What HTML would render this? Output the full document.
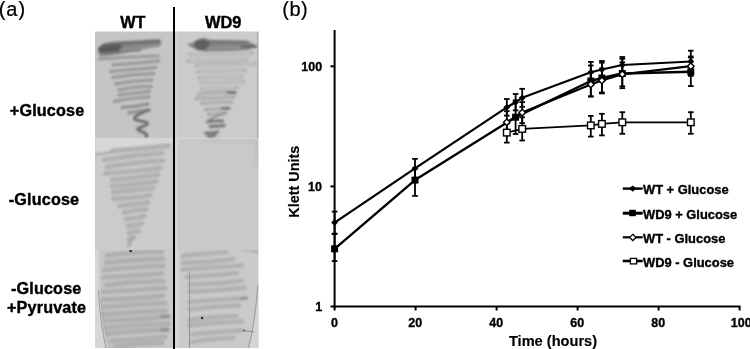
<!DOCTYPE html>
<html><head><meta charset="utf-8">
<style>
html,body{margin:0;padding:0;background:#fff;}
body{width:750px;height:349px;position:relative;overflow:hidden;}
svg{position:absolute;left:0;top:0;}
</style></head>
<body>
<svg width="750" height="349" viewBox="0 0 750 349">
<defs>
<filter id="b06" x="-10%" y="-10%" width="120%" height="120%"><feGaussianBlur stdDeviation="0.6"/></filter>
<filter id="b08" x="-10%" y="-10%" width="120%" height="120%"><feGaussianBlur stdDeviation="0.8"/></filter>
<filter id="b1" x="-10%" y="-10%" width="120%" height="120%"><feGaussianBlur stdDeviation="1"/></filter>
<filter id="b15" x="-10%" y="-10%" width="120%" height="120%"><feGaussianBlur stdDeviation="1.5"/></filter>
<filter id="b3" x="-20%" y="-20%" width="140%" height="140%"><feGaussianBlur stdDeviation="3"/></filter>
<clipPath id="cL1"><rect x="95" y="31.5" width="78" height="107"/></clipPath>
<clipPath id="cR1"><rect x="175" y="31.5" width="83.5" height="107"/></clipPath>
<clipPath id="cL2"><rect x="95" y="138.5" width="78" height="111.5"/></clipPath>
<clipPath id="cR2"><rect x="175" y="138.5" width="83.5" height="111.5"/></clipPath>
<clipPath id="cL3"><rect x="95" y="250" width="78" height="98"/></clipPath>
<clipPath id="cR3"><rect x="175" y="250" width="83.5" height="98"/></clipPath>
</defs>
<rect x="95" y="31.5" width="78" height="107" fill="#c5c5c5"/>
<rect x="175" y="31.5" width="83.5" height="107" fill="#cbcbcb"/>
<rect x="95" y="138.5" width="78" height="111.5" fill="#cbcbcb"/>
<rect x="175" y="138.5" width="83.5" height="111.5" fill="#c9c9c9"/>
<rect x="95" y="250" width="78" height="98" fill="#c9c9c9"/>
<rect x="175" y="250" width="83.5" height="98" fill="#cacaca"/>
<g clip-path="url(#cL1)"><g filter="url(#b08)" stroke-linecap="round" fill="none">
<path d="M98,50 C98,45 104,42.5 115,41.5 L159,39.3 C162,40 162,45 159,46.5 L140,50 L120,54 L101,56.5 C99,56 98,53 98,50 Z" fill="#858585" stroke="none"/>
<ellipse cx="110" cy="48.5" rx="12" ry="5" fill="#5a5a5a" stroke="none" transform="rotate(-6 110 48.5)"/>
<path d="M104,44.8 L159,40.8" stroke="#686868" stroke-width="2.2"/>
<path d="M120,50 L157,46" stroke="#979797" stroke-width="1.3"/>
<path d="M104,53 L140,50.5" stroke="#777777" stroke-width="1.5"/>
<path d="M99.0,59.0 Q126.1,56.9 158.7,56.0" stroke="#999999" stroke-width="3.2"/>
<path d="M113.0,65.0 Q132.4,63.5 158.7,61.0" stroke="#8e8e8e" stroke-width="3.1"/>
<path d="M114.5,65.0 Q132.4,63.5 157.2,61.0" stroke="#ababab" stroke-width="0.9"/>
<path d="M111.0,71.5 Q132.2,69.6 155.5,67.5" stroke="#8e8e8e" stroke-width="3.1"/>
<path d="M112.5,71.5 Q132.2,69.6 154.0,67.5" stroke="#ababab" stroke-width="0.9"/>
<path d="M113.0,77.5 Q133.6,74.1 154.0,73.5" stroke="#8e8e8e" stroke-width="3.1"/>
<path d="M114.5,77.5 Q133.6,74.1 152.5,73.5" stroke="#ababab" stroke-width="0.9"/>
<path d="M116.0,84.0 Q133.5,80.5 152.0,80.0" stroke="#8e8e8e" stroke-width="3.1"/>
<path d="M117.5,84.0 Q133.5,80.5 150.5,80.0" stroke="#ababab" stroke-width="0.9"/>
<path d="M119.0,90.0 Q131.7,86.9 151.0,86.5" stroke="#8e8e8e" stroke-width="3.1"/>
<path d="M120.5,90.0 Q131.7,86.9 149.5,86.5" stroke="#ababab" stroke-width="0.9"/>
<path d="M119.0,95.0 Q136.6,93.0 149.0,91.5" stroke="#8e8e8e" stroke-width="3.1"/>
<path d="M120.5,95.0 Q136.6,93.0 147.5,91.5" stroke="#ababab" stroke-width="0.9"/>
<path d="M114.5,101.5 Q129.5,98.0 149.0,97.0" stroke="#8e8e8e" stroke-width="3.1"/>
<path d="M116.0,101.5 Q129.5,98.0 147.5,97.0" stroke="#ababab" stroke-width="0.9"/>
<path d="M122.0,107.5 Q138.4,106.2 147.6,104.0" stroke="#858585" stroke-width="3.0"/>
<path d="M123.5,107.5 Q138.4,106.2 146.1,104.0" stroke="#a0a0a0" stroke-width="0.9"/>
<path d="M128.7,113.0 Q138.0,111.7 149.0,110.0" stroke="#858585" stroke-width="3.0"/>
<path d="M130.2,113.0 Q138.0,111.7 147.5,110.0" stroke="#a0a0a0" stroke-width="0.9"/>
<path d="M149,110 C141,113 132,117 135,119.5 C139,121.5 150,121 147,124.5 C143,127.5 134,128 139,130.5 C145,133 149,134.5 146,136.5" stroke="#6a6a6a" stroke-width="2.8"/>
</g></g>
<g clip-path="url(#cR1)">
<rect x="175" y="31.5" width="3" height="107" fill="#d0d0d0"/>
<rect x="257" y="31.5" width="1.5" height="107" fill="#a8a8a8"/>
<g filter="url(#b08)" stroke-linecap="round" fill="none">
<path d="M187,44.5 C192,43 196,41 200,39 L204,38 L210,40 L245,40.5 L256,45 L250,49.5 L235,51 L205,51.5 L198,50.5 C192,47.5 189,46 187,44.5 Z" fill="#838383" stroke="none"/>
<ellipse cx="202" cy="44.5" rx="8" ry="5.5" fill="#5e5e5e" stroke="none"/>
<path d="M208,41.5 L248,42" stroke="#6e6e6e" stroke-width="2"/>
<path d="M242,46.5 L256,46.5" stroke="#646464" stroke-width="2.4"/>
<path d="M207,47.5 L240,47.5" stroke="#999999" stroke-width="1.3"/>
<path d="M189.7,54.5 Q217.6,55.3 252.8,53.0" stroke="#acacac" stroke-width="3.4"/>
<path d="M191.2,54.5 Q217.6,55.3 251.3,53.0" stroke="#c9c9c9" stroke-width="1.4"/>
<path d="M188.0,61.0 Q215.6,61.4 246.5,59.5" stroke="#acacac" stroke-width="3.4"/>
<path d="M189.5,61.0 Q215.6,61.4 245.0,59.5" stroke="#c9c9c9" stroke-width="1.4"/>
<path d="M196.0,65.5 Q222.9,63.6 256.0,64.0" stroke="#acacac" stroke-width="3.4"/>
<path d="M197.5,65.5 Q222.9,63.6 254.5,64.0" stroke="#c9c9c9" stroke-width="1.4"/>
<path d="M197.6,72.0 Q223.8,70.6 245.0,70.5" stroke="#acacac" stroke-width="3.4"/>
<path d="M199.1,72.0 Q223.8,70.6 243.5,70.5" stroke="#c9c9c9" stroke-width="1.4"/>
<path d="M199.0,78.0 Q221.0,76.4 241.7,76.8" stroke="#acacac" stroke-width="3.4"/>
<path d="M200.5,78.0 Q221.0,76.4 240.2,76.8" stroke="#c9c9c9" stroke-width="1.4"/>
<path d="M200.8,83.0 Q220.9,82.7 243.0,81.5" stroke="#acacac" stroke-width="3.4"/>
<path d="M202.3,83.0 Q220.9,82.7 241.5,81.5" stroke="#c9c9c9" stroke-width="1.4"/>
<path d="M202.0,89.0 Q216.0,88.6 237.0,87.8" stroke="#acacac" stroke-width="3.4"/>
<path d="M203.5,89.0 Q216.0,88.6 235.5,87.8" stroke="#c9c9c9" stroke-width="1.4"/>
<path d="M199.0,94.0 Q214.8,91.8 235.4,92.5" stroke="#a0a0a0" stroke-width="3.2"/>
<path d="M200.5,94.0 Q214.8,91.8 233.9,92.5" stroke="#bdbdbd" stroke-width="1.2"/>
<path d="M196.0,98.5 Q214.4,98.3 234.0,97.0" stroke="#a0a0a0" stroke-width="3.2"/>
<path d="M197.5,98.5 Q214.4,98.3 232.5,97.0" stroke="#bdbdbd" stroke-width="1.2"/>
<path d="M202.0,103.3 Q217.7,102.1 232.0,102.0" stroke="#a0a0a0" stroke-width="3.2"/>
<path d="M203.5,103.3 Q217.7,102.1 230.5,102.0" stroke="#bdbdbd" stroke-width="1.2"/>
<path d="M205.5,109.5 Q215.6,108.8 229.0,108.3" stroke="#a0a0a0" stroke-width="3.2"/>
<path d="M207.0,109.5 Q215.6,108.8 227.5,108.3" stroke="#bdbdbd" stroke-width="1.2"/>
<path d="M208.7,114.2 Q218.9,114.5 226.0,113.0" stroke="#a0a0a0" stroke-width="3.2"/>
<path d="M210.2,114.2 Q218.9,114.5 224.5,113.0" stroke="#bdbdbd" stroke-width="1.2"/>
<path d="M228,92.5 L235,92.5" stroke="#6e6e6e" stroke-width="2.4"/>
<path d="M222,108.3 L229,108.3" stroke="#747474" stroke-width="2.4"/>
<path d="M207.0,121.8 Q215.5,120.6 222.8,121.0" stroke="#757575" stroke-width="2.8"/>
<path d="M210.0,126.5 Q220.2,126.1 224.4,125.5" stroke="#757575" stroke-width="2.8"/>
<path d="M205.5,133.0 Q210.1,133.1 218.0,131.8" stroke="#757575" stroke-width="2.8"/>
<path d="M208.0,136.0 Q208.4,137.2 215.0,135.3" stroke="#757575" stroke-width="2.8"/>
<path d="M226,113 C216,116 209,119 207,121.8" stroke="#8e8e8e" stroke-width="2"/>
</g></g>
<g clip-path="url(#cL2)">
<path d="M95,138.5 L173,138.5 L173,143 L95,153 Z" fill="#d8d8d8" filter="url(#b15)"/>
<g filter="url(#b1)" stroke-linecap="round" fill="none">
<path d="M95,154.5 L168,144.5" stroke="#a8a8a8" stroke-width="2.2"/>
<path d="M112.0,151.0 Q142.1,148.2 168.0,146.0" stroke="#acacac" stroke-width="4.4"/>
<path d="M113.5,151.0 Q142.1,148.2 166.5,146.0" stroke="#b8b8b8" stroke-width="1.4"/>
<path d="M104.0,160.0 Q132.9,155.4 162.0,153.0" stroke="#acacac" stroke-width="4.4"/>
<path d="M105.5,160.0 Q132.9,155.4 160.5,153.0" stroke="#b8b8b8" stroke-width="1.4"/>
<path d="M107.0,167.0 Q136.3,162.3 163.0,160.5" stroke="#acacac" stroke-width="4.4"/>
<path d="M108.5,167.0 Q136.3,162.3 161.5,160.5" stroke="#b8b8b8" stroke-width="1.4"/>
<path d="M105.0,173.5 Q133.1,171.6 160.0,168.0" stroke="#acacac" stroke-width="4.4"/>
<path d="M106.5,173.5 Q133.1,171.6 158.5,168.0" stroke="#b8b8b8" stroke-width="1.4"/>
<path d="M112.0,180.0 Q133.5,178.5 158.0,174.5" stroke="#acacac" stroke-width="4.4"/>
<path d="M113.5,180.0 Q133.5,178.5 156.5,174.5" stroke="#b8b8b8" stroke-width="1.4"/>
<path d="M112.0,186.5 Q134.8,184.6 156.0,181.5" stroke="#acacac" stroke-width="4.4"/>
<path d="M113.5,186.5 Q134.8,184.6 154.5,181.5" stroke="#b8b8b8" stroke-width="1.4"/>
<path d="M113.0,192.5 Q132.6,190.5 153.0,188.0" stroke="#acacac" stroke-width="4.4"/>
<path d="M114.5,192.5 Q132.6,190.5 151.5,188.0" stroke="#b8b8b8" stroke-width="1.4"/>
<path d="M113.5,199.0 Q135.3,198.1 150.0,195.0" stroke="#acacac" stroke-width="4.4"/>
<path d="M115.0,199.0 Q135.3,198.1 148.5,195.0" stroke="#b8b8b8" stroke-width="1.4"/>
<path d="M118.8,206.0 Q134.7,204.2 148.0,202.5" stroke="#acacac" stroke-width="4.4"/>
<path d="M120.3,206.0 Q134.7,204.2 146.5,202.5" stroke="#b8b8b8" stroke-width="1.4"/>
<path d="M124.0,212.5 Q136.6,209.6 146.0,209.5" stroke="#acacac" stroke-width="4.4"/>
<path d="M125.5,212.5 Q136.6,209.6 144.5,209.5" stroke="#b8b8b8" stroke-width="1.4"/>
<path d="M126.0,219.0 Q138.9,218.0 144.0,216.0" stroke="#acacac" stroke-width="4.4"/>
<path d="M127.5,219.0 Q138.9,218.0 142.5,216.0" stroke="#b8b8b8" stroke-width="1.4"/>
<path d="M128.0,226.0 Q133.3,225.8 142.0,223.5" stroke="#acacac" stroke-width="4.4"/>
<path d="M129.5,226.0 Q133.3,225.8 140.5,223.5" stroke="#b8b8b8" stroke-width="1.4"/>
<path d="M129.0,233.0 Q135.3,231.6 139.0,231.0" stroke="#acacac" stroke-width="4.4"/>
<path d="M130.5,233.0 Q135.3,231.6 137.5,231.0" stroke="#b8b8b8" stroke-width="1.4"/>
<path d="M128.6,240.0 Q131.0,237.2 134.0,237.5" stroke="#acacac" stroke-width="4.4"/>
<path d="M130.1,240.0 Q131.0,237.2 132.5,237.5" stroke="#b8b8b8" stroke-width="1.4"/>
<path d="M128.5,246 L132.5,238" stroke="#a6a6a6" stroke-width="2.6"/>
</g></g>
<g clip-path="url(#cR2)">
<rect x="175" y="138.5" width="3" height="111.5" fill="#d5d5d5"/>
<g filter="url(#b15)" stroke-linecap="round" fill="none">
<path d="M200,141 L256,141" stroke="#c2c2c2" stroke-width="3"/>
<path d="M256,140 L257,165" stroke="#bcbcbc" stroke-width="2.5"/>
</g></g>
<g clip-path="url(#cL3)">
<g filter="url(#b1)" stroke-linecap="round" fill="none">
<path d="M107.0,255.5 Q131.4,252.4 162.0,251.5" stroke="#adadad" stroke-width="5.0"/>
<path d="M108.5,255.5 Q131.4,252.4 160.5,251.5" stroke="#b6b6b6" stroke-width="1.0"/>
<path d="M106.0,262.8 Q136.6,259.4 163.0,258.8" stroke="#adadad" stroke-width="5.0"/>
<path d="M107.5,262.8 Q136.6,259.4 161.5,258.8" stroke="#b6b6b6" stroke-width="1.0"/>
<path d="M104.0,270.0 Q131.5,266.8 163.0,266.0" stroke="#adadad" stroke-width="5.0"/>
<path d="M105.5,270.0 Q131.5,266.8 161.5,266.0" stroke="#b6b6b6" stroke-width="1.0"/>
<path d="M104.0,277.5 Q136.0,275.2 162.0,273.5" stroke="#adadad" stroke-width="5.0"/>
<path d="M105.5,277.5 Q136.0,275.2 160.5,273.5" stroke="#b6b6b6" stroke-width="1.0"/>
<path d="M106.0,285.0 Q134.1,281.7 163.0,281.0" stroke="#adadad" stroke-width="5.0"/>
<path d="M107.5,285.0 Q134.1,281.7 161.5,281.0" stroke="#b6b6b6" stroke-width="1.0"/>
<path d="M103.0,292.0 Q137.1,290.2 165.0,288.0" stroke="#adadad" stroke-width="5.0"/>
<path d="M104.5,292.0 Q137.1,290.2 163.5,288.0" stroke="#b6b6b6" stroke-width="1.0"/>
<path d="M103.0,299.7 Q135.9,298.7 163.0,295.7" stroke="#adadad" stroke-width="5.0"/>
<path d="M104.5,299.7 Q135.9,298.7 161.5,295.7" stroke="#b6b6b6" stroke-width="1.0"/>
<path d="M104.0,307.0 Q133.8,304.3 165.0,303.0" stroke="#adadad" stroke-width="5.0"/>
<path d="M105.5,307.0 Q133.8,304.3 163.5,303.0" stroke="#b6b6b6" stroke-width="1.0"/>
<path d="M103.0,314.5 Q137.6,312.0 166.0,310.5" stroke="#adadad" stroke-width="5.0"/>
<path d="M104.5,314.5 Q137.6,312.0 164.5,310.5" stroke="#b6b6b6" stroke-width="1.0"/>
<path d="M106.0,320.4 Q134.7,319.9 169.0,316.4" stroke="#adadad" stroke-width="5.0"/>
<path d="M107.5,320.4 Q134.7,319.9 167.5,316.4" stroke="#b6b6b6" stroke-width="1.0"/>
<path d="M106.0,327.8 Q134.9,324.8 168.0,323.8" stroke="#adadad" stroke-width="5.0"/>
<path d="M107.5,327.8 Q134.9,324.8 166.5,323.8" stroke="#b6b6b6" stroke-width="1.0"/>
<path d="M107.0,333.7 Q137.4,330.8 168.0,329.7" stroke="#adadad" stroke-width="5.0"/>
<path d="M108.5,333.7 Q137.4,330.8 166.5,329.7" stroke="#b6b6b6" stroke-width="1.0"/>
<path d="M112.0,341.0 Q136.6,339.3 165.0,337.0" stroke="#adadad" stroke-width="5.0"/>
<path d="M113.5,341.0 Q136.6,339.3 163.5,337.0" stroke="#b6b6b6" stroke-width="1.0"/>
<path d="M115.0,347.0 Q137.9,343.4 162.0,343.0" stroke="#adadad" stroke-width="5.0"/>
<path d="M116.5,347.0 Q137.9,343.4 160.5,343.0" stroke="#b6b6b6" stroke-width="1.0"/>
<path d="M161,316.5 L168,316.0" stroke="#8a8a8a" stroke-width="2.4"/>
<path d="M161,330 L168,329.5" stroke="#8a8a8a" stroke-width="2.4"/>
</g>
<path d="M95,250 L99,250 Q98,300 105,348 L95,348 Z" fill="#d6d6d6" filter="url(#b06)"/>
<path d="M98.5,290 Q100,322 106,348" stroke="#9c9c9c" stroke-width="1" fill="none" filter="url(#b06)"/>
<path d="M101,300 Q103,325 110,348" stroke="#a4a4a4" stroke-width="0.8" fill="none" filter="url(#b06)"/>
<circle cx="130.7" cy="251" r="1.3" fill="#303030"/>
</g>
<g clip-path="url(#cR3)">
<rect x="175" y="250" width="4" height="98" fill="#d4d4d4"/>
<g filter="url(#b1)" stroke-linecap="round" fill="none">
<path d="M183.0,256.0 Q205.0,253.6 226.0,252.0" stroke="#afafaf" stroke-width="4.6"/>
<path d="M184.5,256.0 Q205.0,253.6 224.5,252.0" stroke="#b8b8b8" stroke-width="1.0"/>
<path d="M183.0,263.0 Q209.5,262.4 233.0,259.0" stroke="#afafaf" stroke-width="4.6"/>
<path d="M184.5,263.0 Q209.5,262.4 231.5,259.0" stroke="#b8b8b8" stroke-width="1.0"/>
<path d="M183.0,269.5 Q213.3,267.5 241.7,265.5" stroke="#afafaf" stroke-width="4.6"/>
<path d="M184.5,269.5 Q213.3,267.5 240.2,265.5" stroke="#b8b8b8" stroke-width="1.0"/>
<path d="M187.0,277.0 Q208.4,275.6 237.0,273.0" stroke="#afafaf" stroke-width="4.6"/>
<path d="M188.5,277.0 Q208.4,275.6 235.5,273.0" stroke="#b8b8b8" stroke-width="1.0"/>
<path d="M189.6,284.5 Q217.9,283.8 241.7,280.5" stroke="#afafaf" stroke-width="4.6"/>
<path d="M191.1,284.5 Q217.9,283.8 240.2,280.5" stroke="#b8b8b8" stroke-width="1.0"/>
<path d="M189.6,291.5 Q219.4,290.7 244.5,287.5" stroke="#afafaf" stroke-width="4.6"/>
<path d="M191.1,291.5 Q219.4,290.7 243.0,287.5" stroke="#b8b8b8" stroke-width="1.0"/>
<path d="M189.6,302.0 Q217.0,299.7 246.0,298.0" stroke="#afafaf" stroke-width="4.6"/>
<path d="M191.1,302.0 Q217.0,299.7 244.5,298.0" stroke="#b8b8b8" stroke-width="1.0"/>
<path d="M189.6,309.5 Q215.2,306.2 238.7,305.5" stroke="#afafaf" stroke-width="4.6"/>
<path d="M191.1,309.5 Q215.2,306.2 237.2,305.5" stroke="#b8b8b8" stroke-width="1.0"/>
<path d="M189.6,320.0 Q209.3,316.6 236.0,316.0" stroke="#afafaf" stroke-width="4.6"/>
<path d="M191.1,320.0 Q209.3,316.6 234.5,316.0" stroke="#b8b8b8" stroke-width="1.0"/>
<path d="M189.6,325.5 Q212.9,322.6 241.7,321.5" stroke="#afafaf" stroke-width="4.6"/>
<path d="M191.1,325.5 Q212.9,322.6 240.2,321.5" stroke="#b8b8b8" stroke-width="1.0"/>
<path d="M192.5,334.5 Q213.5,332.0 241.7,330.5" stroke="#afafaf" stroke-width="4.6"/>
<path d="M194.0,334.5 Q213.5,332.0 240.2,330.5" stroke="#b8b8b8" stroke-width="1.0"/>
<path d="M192.5,342.0 Q210.0,338.4 233.0,338.0" stroke="#afafaf" stroke-width="4.6"/>
<path d="M194.0,342.0 Q210.0,338.4 231.5,338.0" stroke="#b8b8b8" stroke-width="1.0"/>
<path d="M241,298.5 L247,298" stroke="#8a8a8a" stroke-width="2.2"/>
</g>
<path d="M240,250 L258.5,250 L258.5,254 Z" fill="#b4b4b4" filter="url(#b1)"/>
<path d="M189.2,272 L189.5,348" stroke="#8c8c8c" stroke-width="1.1" fill="none" filter="url(#b06)"/>
<path d="M258.5,285 Q256,320 249,348 L258.5,348 Z" fill="#d4d4d4" filter="url(#b06)"/>
<path d="M257.8,285 Q255.5,320 248.5,348" stroke="#9a9a9a" stroke-width="1" fill="none" filter="url(#b06)"/>
<circle cx="202.1" cy="318" r="1.3" fill="#303030"/>
<circle cx="244" cy="330.6" r="1" fill="#505050"/>
<path d="M244,330.6 L254,332" stroke="#7a7a7a" stroke-width="0.8"/>
</g>
<rect x="173" y="7" width="2" height="342" fill="#000"/>
<g font-family="Liberation Sans, Arial, sans-serif" fill="#000">
<text x="-1.2" y="15.6" font-size="20" letter-spacing="0.9" stroke="#000" stroke-width="0.2">(a)</text>
<text x="282.3" y="15.6" font-size="20" letter-spacing="0.5" stroke="#000" stroke-width="0.2">(b)</text>
</g>
<g font-family="Liberation Sans, Arial, sans-serif" font-weight="bold" fill="#000" stroke="#000" stroke-width="0.4">
<text x="120.2" y="28.3" font-size="16.2">WT</text>
<text x="205" y="28.3" font-size="16.4">WD9</text>
<text x="9.8" y="115.6" font-size="16.2" letter-spacing="0.15">+Glucose</text>
<text x="8.8" y="205" font-size="16.2" letter-spacing="0.15">-Glucose</text>
<text x="11" y="293.8" font-size="16.2" letter-spacing="0.15">-Glucose</text>
<text x="7" y="313" font-size="16.2" letter-spacing="0.15">+Pyruvate</text>
</g>
<g stroke="#000" stroke-width="2" fill="none">
<line x1="334.6" y1="30" x2="334.6" y2="307.5"/>
<line x1="333.6" y1="306.5" x2="740.5" y2="306.5"/>
<line x1="330.5" y1="66.3" x2="334.6" y2="66.3"/>
<line x1="330.5" y1="186.4" x2="334.6" y2="186.4"/>
<line x1="330.5" y1="306.5" x2="334.6" y2="306.5"/>
<line x1="334.6" y1="306.5" x2="334.6" y2="310.5"/>
<line x1="415.6" y1="306.5" x2="415.6" y2="310.5"/>
<line x1="496.6" y1="306.5" x2="496.6" y2="310.5"/>
<line x1="577.6" y1="306.5" x2="577.6" y2="310.5"/>
<line x1="658.6" y1="306.5" x2="658.6" y2="310.5"/>
<line x1="739.6" y1="306.5" x2="739.6" y2="310.5"/>
</g>
<g font-family="Liberation Sans, Arial, sans-serif" font-weight="bold" font-size="12.5" fill="#000" stroke="#000" stroke-width="0.35">
<text x="322.2" y="70.6" text-anchor="end">100</text>
<text x="322" y="190.6" text-anchor="end">10</text>
<text x="322.2" y="311.2" text-anchor="end">1</text>
<text x="334.6" y="327.3" text-anchor="middle">0</text>
<text x="415.3" y="327.3" text-anchor="middle">20</text>
<text x="496.3" y="327.3" text-anchor="middle">40</text>
<text x="577.3" y="327.3" text-anchor="middle">60</text>
<text x="658.3" y="327.3" text-anchor="middle">80</text>
<text x="741.3" y="327.3" text-anchor="middle">100</text>
<text x="553" y="345.5" text-anchor="middle" font-size="14.6" stroke-width="0.15">Time (hours)</text>
<text transform="translate(298.8,181.7) rotate(-90)" text-anchor="middle" font-size="14.4" stroke-width="0.15">Klett Units</text>
</g>

<g stroke="#000" stroke-width="1.8" fill="none">
<line x1="506.8" y1="123.6" x2="506.8" y2="142.6"/>
<line x1="504.0" y1="123.6" x2="509.6" y2="123.6"/>
<line x1="504.0" y1="142.6" x2="509.6" y2="142.6"/>
<line x1="522.2" y1="117.3" x2="522.2" y2="140.5"/>
<line x1="519.4" y1="117.3" x2="525.0" y2="117.3"/>
<line x1="519.4" y1="140.5" x2="525.0" y2="140.5"/>
<line x1="590.8" y1="115.9" x2="590.8" y2="136.6"/>
<line x1="588.0" y1="115.9" x2="593.6" y2="115.9"/>
<line x1="588.0" y1="136.6" x2="593.6" y2="136.6"/>
<line x1="601.9" y1="113.8" x2="601.9" y2="135.4"/>
<line x1="599.1" y1="113.8" x2="604.7" y2="113.8"/>
<line x1="599.1" y1="135.4" x2="604.7" y2="135.4"/>
<line x1="622.3" y1="112.2" x2="622.3" y2="133.8"/>
<line x1="619.5" y1="112.2" x2="625.1" y2="112.2"/>
<line x1="619.5" y1="133.8" x2="625.1" y2="133.8"/>
<line x1="690.8" y1="112.2" x2="690.8" y2="133.8"/>
<line x1="688.0" y1="112.2" x2="693.6" y2="112.2"/>
<line x1="688.0" y1="133.8" x2="693.6" y2="133.8"/>
<line x1="506.8" y1="111.2" x2="506.8" y2="133.2"/>
<line x1="504.0" y1="111.2" x2="509.6" y2="111.2"/>
<line x1="504.0" y1="133.2" x2="509.6" y2="133.2"/>
<line x1="522.2" y1="102.1" x2="522.2" y2="123.1"/>
<line x1="519.4" y1="102.1" x2="525.0" y2="102.1"/>
<line x1="519.4" y1="123.1" x2="525.0" y2="123.1"/>
<line x1="590.8" y1="72.4" x2="590.8" y2="96.4"/>
<line x1="588.0" y1="72.4" x2="593.6" y2="72.4"/>
<line x1="588.0" y1="96.4" x2="593.6" y2="96.4"/>
<line x1="601.9" y1="68.5" x2="601.9" y2="92.5"/>
<line x1="599.1" y1="68.5" x2="604.7" y2="68.5"/>
<line x1="599.1" y1="92.5" x2="604.7" y2="92.5"/>
<line x1="622.3" y1="62.3" x2="622.3" y2="86.3"/>
<line x1="619.5" y1="62.3" x2="625.1" y2="62.3"/>
<line x1="619.5" y1="86.3" x2="625.1" y2="86.3"/>
<line x1="690.8" y1="56.5" x2="690.8" y2="75.9"/>
<line x1="688.0" y1="56.5" x2="693.6" y2="56.5"/>
<line x1="688.0" y1="75.9" x2="693.6" y2="75.9"/>
<line x1="334.6" y1="234.1" x2="334.6" y2="261.1"/>
<line x1="331.8" y1="234.1" x2="337.4" y2="234.1"/>
<line x1="331.8" y1="261.1" x2="337.4" y2="261.1"/>
<line x1="415.0" y1="168.5" x2="415.0" y2="195.9"/>
<line x1="412.2" y1="168.5" x2="417.8" y2="168.5"/>
<line x1="412.2" y1="195.9" x2="417.8" y2="195.9"/>
<line x1="515.6" y1="100.4" x2="515.6" y2="134.0"/>
<line x1="512.8" y1="100.4" x2="518.4" y2="100.4"/>
<line x1="512.8" y1="134.0" x2="518.4" y2="134.0"/>
<line x1="590.8" y1="65.5" x2="590.8" y2="96.5"/>
<line x1="588.0" y1="65.5" x2="593.6" y2="65.5"/>
<line x1="588.0" y1="96.5" x2="593.6" y2="96.5"/>
<line x1="601.9" y1="62.6" x2="601.9" y2="93.4"/>
<line x1="599.1" y1="62.6" x2="604.7" y2="62.6"/>
<line x1="599.1" y1="93.4" x2="604.7" y2="93.4"/>
<line x1="622.3" y1="58.8" x2="622.3" y2="88.2"/>
<line x1="619.5" y1="58.8" x2="625.1" y2="58.8"/>
<line x1="619.5" y1="88.2" x2="625.1" y2="88.2"/>
<line x1="690.8" y1="57.5" x2="690.8" y2="86.1"/>
<line x1="688.0" y1="57.5" x2="693.6" y2="57.5"/>
<line x1="688.0" y1="86.1" x2="693.6" y2="86.1"/>
<line x1="334.6" y1="211.6" x2="334.6" y2="233.6"/>
<line x1="331.8" y1="211.6" x2="337.4" y2="211.6"/>
<line x1="331.8" y1="233.6" x2="337.4" y2="233.6"/>
<line x1="415.0" y1="158.9" x2="415.0" y2="177.9"/>
<line x1="412.2" y1="158.9" x2="417.8" y2="158.9"/>
<line x1="412.2" y1="177.9" x2="417.8" y2="177.9"/>
<line x1="506.8" y1="99.0" x2="506.8" y2="115.6"/>
<line x1="504.0" y1="99.0" x2="509.6" y2="99.0"/>
<line x1="504.0" y1="115.6" x2="509.6" y2="115.6"/>
<line x1="515.6" y1="94.0" x2="515.6" y2="110.4"/>
<line x1="512.8" y1="94.0" x2="518.4" y2="94.0"/>
<line x1="512.8" y1="110.4" x2="518.4" y2="110.4"/>
<line x1="522.2" y1="88.8" x2="522.2" y2="106.8"/>
<line x1="519.4" y1="88.8" x2="525.0" y2="88.8"/>
<line x1="519.4" y1="106.8" x2="525.0" y2="106.8"/>
<line x1="590.8" y1="61.9" x2="590.8" y2="82.5"/>
<line x1="588.0" y1="61.9" x2="593.6" y2="61.9"/>
<line x1="588.0" y1="82.5" x2="593.6" y2="82.5"/>
<line x1="601.9" y1="61.0" x2="601.9" y2="78.0"/>
<line x1="599.1" y1="61.0" x2="604.7" y2="61.0"/>
<line x1="599.1" y1="78.0" x2="604.7" y2="78.0"/>
<line x1="622.3" y1="57.0" x2="622.3" y2="73.0"/>
<line x1="619.5" y1="57.0" x2="625.1" y2="57.0"/>
<line x1="619.5" y1="73.0" x2="625.1" y2="73.0"/>
<line x1="690.8" y1="50.7" x2="690.8" y2="72.3"/>
<line x1="688.0" y1="50.7" x2="693.6" y2="50.7"/>
<line x1="688.0" y1="72.3" x2="693.6" y2="72.3"/>
</g>
<polyline points="506.8,132.6 522.2,128.9 590.8,125.4 601.9,123.9 622.3,122.3 690.8,122.3" fill="none" stroke="#000" stroke-width="1.8" stroke-linejoin="round"/>
<polyline points="506.8,122.2 522.2,112.6 590.8,84.4 601.9,80.5 622.3,74.3 690.8,66.2" fill="none" stroke="#000" stroke-width="2.2" stroke-linejoin="round"/>
<polyline points="334.6,248.8 415.0,180.1 515.6,117.2 590.8,81.0 601.9,78.0 622.3,73.5 690.8,71.8" fill="none" stroke="#000" stroke-width="2.4" stroke-linejoin="round"/>
<polyline points="334.6,222.6 415.0,168.4 506.8,107.3 515.6,102.2 522.2,97.8 590.8,72.2 601.9,69.5 622.3,65.0 690.8,61.5" fill="none" stroke="#000" stroke-width="2.2" stroke-linejoin="round"/>
<rect x="331.1" y="245.3" width="7.0" height="7.0" fill="#000"/>
<rect x="411.5" y="176.6" width="7.0" height="7.0" fill="#000"/>
<rect x="512.1" y="113.7" width="7.0" height="7.0" fill="#000"/>
<rect x="587.3" y="77.5" width="7.0" height="7.0" fill="#000"/>
<rect x="598.4" y="74.5" width="7.0" height="7.0" fill="#000"/>
<rect x="618.8" y="70.0" width="7.0" height="7.0" fill="#000"/>
<rect x="687.3" y="68.3" width="7.0" height="7.0" fill="#000"/>
<polygon points="334.6,219.2 338.0,222.6 334.6,226.0 331.2,222.6" fill="#000"/>
<polygon points="415.0,165.0 418.4,168.4 415.0,171.8 411.6,168.4" fill="#000"/>
<polygon points="506.8,103.9 510.2,107.3 506.8,110.7 503.4,107.3" fill="#000"/>
<polygon points="515.6,98.8 519.0,102.2 515.6,105.6 512.2,102.2" fill="#000"/>
<polygon points="522.2,94.4 525.6,97.8 522.2,101.2 518.8,97.8" fill="#000"/>
<polygon points="590.8,68.8 594.2,72.2 590.8,75.6 587.4,72.2" fill="#000"/>
<polygon points="601.9,66.1 605.3,69.5 601.9,72.9 598.5,69.5" fill="#000"/>
<polygon points="622.3,61.6 625.7,65.0 622.3,68.4 618.9,65.0" fill="#000"/>
<polygon points="690.8,58.1 694.2,61.5 690.8,64.9 687.4,61.5" fill="#000"/>
<polygon points="506.8,118.9 510.1,122.2 506.8,125.5 503.5,122.2" fill="#fff" stroke="#000" stroke-width="1.4"/>
<polygon points="522.2,109.3 525.5,112.6 522.2,115.9 518.9,112.6" fill="#fff" stroke="#000" stroke-width="1.4"/>
<polygon points="590.8,81.1 594.1,84.4 590.8,87.7 587.5,84.4" fill="#fff" stroke="#000" stroke-width="1.4"/>
<polygon points="601.9,77.2 605.2,80.5 601.9,83.8 598.6,80.5" fill="#fff" stroke="#000" stroke-width="1.4"/>
<polygon points="622.3,71.0 625.6,74.3 622.3,77.6 619.0,74.3" fill="#fff" stroke="#000" stroke-width="1.4"/>
<polygon points="690.8,62.9 694.1,66.2 690.8,69.5 687.5,66.2" fill="#fff" stroke="#000" stroke-width="1.4"/>
<rect x="503.5" y="129.3" width="6.6" height="6.6" fill="#fff" stroke="#000" stroke-width="1.4"/>
<rect x="518.9" y="125.6" width="6.6" height="6.6" fill="#fff" stroke="#000" stroke-width="1.4"/>
<rect x="587.5" y="122.1" width="6.6" height="6.6" fill="#fff" stroke="#000" stroke-width="1.4"/>
<rect x="598.6" y="120.6" width="6.6" height="6.6" fill="#fff" stroke="#000" stroke-width="1.4"/>
<rect x="619.0" y="119.0" width="6.6" height="6.6" fill="#fff" stroke="#000" stroke-width="1.4"/>
<rect x="687.5" y="119.0" width="6.6" height="6.6" fill="#fff" stroke="#000" stroke-width="1.4"/>


<g stroke="#000" fill="none">
<line x1="622.8" y1="188.6" x2="642.7" y2="188.6" stroke-width="2.4"/>
<line x1="622.8" y1="213.2" x2="642.7" y2="213.2" stroke-width="3"/>
<line x1="622.8" y1="237.3" x2="642.7" y2="237.3" stroke-width="2.2"/>
<line x1="622.8" y1="261" x2="642.7" y2="261" stroke-width="2.6"/>
</g>
<polygon points="632.7,185.4 636.6,188.6 632.7,191.8 628.8,188.6" fill="#000"/>
<rect x="629.2" y="209.8" width="6.6" height="6.4" fill="#000"/>
<polygon points="632.8,234.3 636,237.4 632.8,240.5 629.6,237.4" fill="#fff" stroke="#000" stroke-width="1.3"/>
<rect x="630.4" y="258.4" width="6.2" height="5.5" fill="#fff" stroke="#000" stroke-width="1.3"/>
<g font-family="Liberation Sans, Arial, sans-serif" font-weight="bold" font-size="12.9" fill="#000" stroke="#000" stroke-width="0.35">
<text x="643" y="193.8">WT + Glucose</text>
<text x="643" y="218.6">WD9 + Glucose</text>
<text x="643" y="242.9">WT - Glucose</text>
<text x="643" y="266.8">WD9 - Glucose</text>
</g>

</svg>
</body></html>
